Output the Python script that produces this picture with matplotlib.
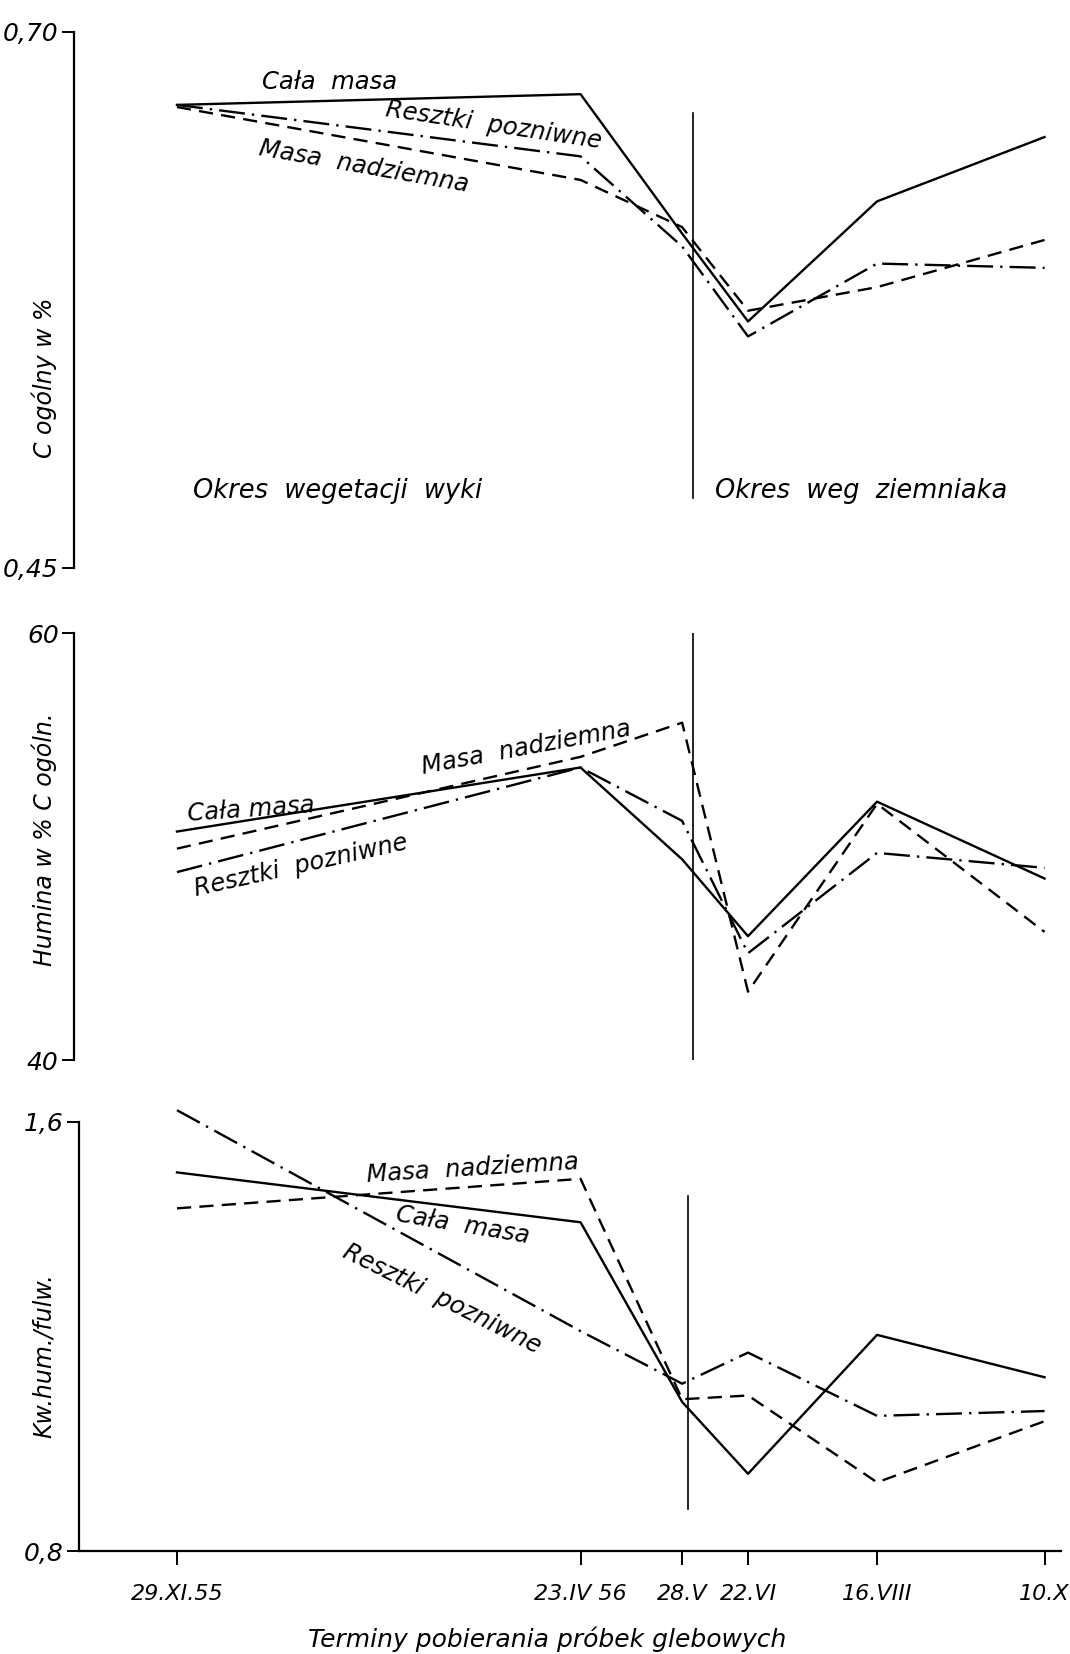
import matplotlib
matplotlib.use("Agg")
import matplotlib.pyplot as plt

# sampling terms and their place on the drawn time axis (days from 29.XI.55)
terms = ["29.XI.55", "23.IV 56", "28.V", "22.VI", "16.VIII", "10.X"]
term_x = [0, 147, 184, 208, 255, 316]
boundary_x = 188  # end of vetch period / start of potato period

# C ogolny w %
c_cala = [0.666, 0.671, 0.606, 0.565, 0.621, 0.651]
c_resztki = [0.666, 0.642, 0.600, 0.558, 0.592, 0.590]
c_nadziemna = [0.665, 0.631, 0.609, 0.570, 0.581, 0.603]

# Humina w % C ogoln.
h_cala = [50.7, 53.7, 49.4, 45.8, 52.1, 48.5]
h_nadziemna = [49.9, 54.2, 55.8, 43.2, 52.0, 46.0]
h_resztki = [48.8, 53.7, 51.2, 45.0, 49.7, 49.0]

# Kw. hum. / fulw.
k_cala = [1.506, 1.413, 1.078, 0.944, 1.203, 1.124]
k_nadziemna = [1.439, 1.494, 1.083, 1.090, 0.928, 1.042]
k_resztki = [1.622, 1.210, 1.112, 1.170, 1.052, 1.061]

plt.rcParams["font.family"] = "DejaVu Sans"
plt.rcParams["font.style"] = "italic"

SOLID = "-"
DASHED = (0, (6, 3.5))
DASHDOT = (0, (11, 3, 1, 3))
LW = 1.7
TXT = 17.5

W, H = 1070, 1654
fig = plt.figure(figsize=(W / 100, H / 100), dpi=100)


def make_axes(left_px, top_px, bottom_px, xmin):
    right_px = 1061
    ax = fig.add_axes([left_px / W, 1 - bottom_px / H,
                       (right_px - left_px) / W, (bottom_px - top_px) / H])
    ax.set_xlim(xmin, 322)
    for s in ["top", "right"]:
        ax.spines[s].set_visible(False)
    ax.spines["left"].set_linewidth(1.6)
    ax.tick_params(axis="y", direction="out", length=9, width=1.4,
                   labelsize=18, pad=2)
    return ax


def draw(ax, cala, nadz, reszt):
    ax.plot(term_x, cala, color="black", lw=LW, linestyle=SOLID, clip_on=False)
    ax.plot(term_x, nadz, color="black", lw=LW, linestyle=DASHED, clip_on=False)
    ax.plot(term_x, reszt, color="black", lw=LW, linestyle=DASHDOT, clip_on=False)


def note(ax, x, y, s, rot=0, size=TXT):
    ax.text(x, y, s, rotation=rot, rotation_mode="anchor", ha="left",
            va="center", fontsize=size, fontstyle="italic")


# ---- panel 1
ax1 = make_axes(74, 32, 568, -37.5)
draw(ax1, c_cala, c_nadziemna, c_resztki)
ax1.set_ylim(0.45, 0.70)
ax1.set_yticks([0.45, 0.70])
ax1.set_yticklabels(["0,45", "0,70"])
ax1.spines["bottom"].set_visible(False)
ax1.set_xticks([])
ax1.axvline(boundary_x, ymin=0.13, ymax=0.848, color="black", lw=1.2)
note(ax1, 31, 0.6765, "Cała  masa")
note(ax1, 76, 0.664, "Resztki  pozniwne", rot=-8.5)
note(ax1, 30, 0.646, "Masa  nadziemna", rot=-10)
note(ax1, 6, 0.486, "Okres  wegetacji  wyki", size=18.5)
note(ax1, 196, 0.486, "Okres  weg  ziemniaka", size=18.5)

# ---- panel 2
ax2 = make_axes(74, 633, 1060, -37.5)
draw(ax2, h_cala, h_nadziemna, h_resztki)
ax2.set_ylim(40, 60)
ax2.set_yticks([40, 60])
ax2.set_yticklabels(["40", "60"])
ax2.spines["bottom"].set_visible(False)
ax2.set_xticks([])
ax2.axvline(boundary_x, ymin=0.0, ymax=1.0, color="black", lw=1.2)
note(ax2, 4, 51.5, "Cała masa", rot=4)
note(ax2, 89, 53.7, "Masa  nadziemna", rot=10.5)
note(ax2, 6.5, 48.0, "Resztki  pozniwne", rot=12.5)

# ---- panel 3
ax3 = make_axes(79, 1122, 1551, -35.7)
draw(ax3, k_cala, k_nadziemna, k_resztki)
ax3.set_ylim(0.8, 1.6)
ax3.set_yticks([0.8, 1.6])
ax3.set_yticklabels(["0,8", "1,6"])
ax3.spines["bottom"].set_linewidth(1.6)
ax3.set_xticks(term_x)
ax3.set_xticklabels(terms)
ax3.tick_params(axis="x", direction="out", length=10, width=1.4,
                labelsize=16, pad=14)
ax3.axvline(boundary_x - 2, ymin=0.098, ymax=0.828, color="black", lw=1.2)
note(ax3, 69, 1.502, "Masa  nadziemna", rot=3.5)
note(ax3, 80, 1.429, "Cała  masa", rot=-9.5)
note(ax3, 61, 1.360, "Resztki  pozniwne", rot=-26.5)

# axis titles
fig.text(44 / W, 1 - 378 / H, "C ogólny w %", rotation=90, ha="center",
         va="center", fontsize=17)
fig.text(44 / W, 1 - 839 / H, "Humina w % C ogóln.", rotation=90,
         ha="center", va="center", fontsize=17)
fig.text(44 / W, 1 - 1356 / H, "Kw.hum./fulw.", rotation=90, ha="center",
         va="center", fontsize=17)
fig.text(547 / W, 1 - 1639 / H, "Terminy pobierania próbek glebowych",
         ha="center", va="center", fontsize=18)

fig.savefig("out.png", dpi=100, facecolor="white")
